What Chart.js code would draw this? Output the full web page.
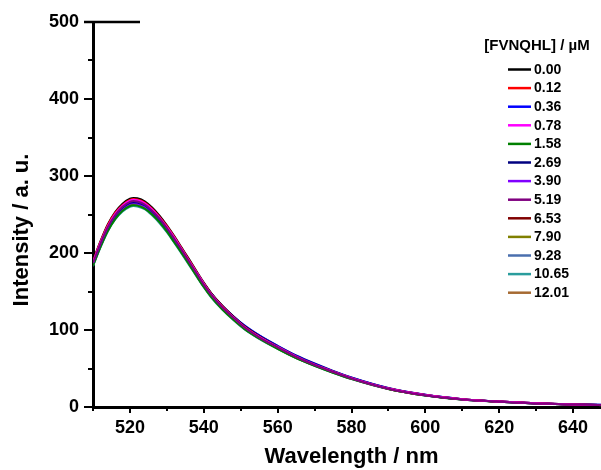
<!DOCTYPE html>
<html>
<head>
<meta charset="utf-8">
<script src="https://cdn.jsdelivr.net/npm/chart.js@4.4.0/dist/chart.umd.min.js"></script>
<style>
  html, body { margin: 0; padding: 0; background: #fff; overflow: hidden; }
  #wrap { position: absolute; left: 0; top: 0; width: 612px; height: 470px; }
</style>
</head>
<body>
<div id="wrap"><canvas id="myChart" width="612" height="470"></canvas></div>
<script>
// wavelength (nm) sample points
var wavelength = [510,512,514,516,518,520,521,522,524,526,528,530,532,534,536,538,540,542,545,548,551,555,
                  560,565,570,575,580,590,600,610,620,630,640,650];

// concentration labels for legend
var concLabels = ['0.00','0.12','0.36','0.78','1.58','2.69','3.90','5.19','6.53','7.90','9.28','10.65','12.01'];
var lineColors = ['#000000','#ff0000','#0000ff','#ff00ff','#008000','#000080','#8000ff','#800080','#800000','#808000','#4a6fae','#2a9d9d','#a66a32'];
// which lines end up on top (lower = drawn later)
var drawOrder = [0,-1,0,-2,0,0,0,-3,0,0,0,0,0];

// intensity (a. u.) per concentration
var s000 = [190,215,237,253,264,270.5,271.5,271,267,259,248.5,236,222,207,192,176.5,161.5,148,131.5,117.5,105,92,
            78,65.5,55,46,37.5,24,15.5,10,7,4.8,3.3,2.5];
var s012 = [189,214,236,252,262.5,269,270,269.5,265.5,257.5,247,235,221,206,191,175.5,160.5,147,131,117,104.5,91.5,
            78,65.5,55,46,37.5,24,15.5,10,7,4.8,3.3,2.5];
var s036 = [187,212,233.5,249,260,266.5,267.5,267,263,255,245,233,219,204.5,190,175,160.5,147.5,131.5,118,106,93,
            79,66.5,56,46.5,38,24.5,15.8,10.2,7.1,4.9,3.4,2.5];
var s078 = [188,213,234.5,250.5,261.5,268,269,268.5,264.5,256.5,246,233.5,220,205,190,175,160,146.5,130,116.5,104,91,
            78,65.5,55,46,37.5,24,15.5,10,7,4.8,3.3,2.5];
var s158 = [183.5,207.5,228.5,244,255,261,262,261.5,257.5,250,240,228,214,200,185.5,170.5,156,143,127,113.5,101.5,89,
            75.5,63.5,53.5,44.5,36.5,23.5,15,9.7,6.8,4.6,3.2,2.4];
var s269 = [186,211,232,248,259,265,266,265.5,262,254,244,232,218.5,204,189.5,174.5,160,147,131,117.5,105.5,93,
            79.5,67,56.5,47,38.3,24.6,15.8,10.2,7.1,4.9,3.4,2.5];
var s390 = [185,209.5,231,246.5,257.5,264,265,264,260.5,252.5,242.5,230,216.5,202,187,172,157.5,144.5,128.5,114.5,102.5,90,
            76.5,64.5,54,45.3,37,23.6,15.2,9.8,6.9,4.7,3.2,2.4];
var s519 = [187,212,233.5,249,260,266.5,267.5,267,263,255,245,232.5,218.5,204,189,174,159,146,129.5,116,103.5,90.5,
            77.5,65,54.7,45.7,37.2,23.8,15.3,9.9,6.9,4.7,3.3,2.5];
var s653 = [188,212.5,234,250,261,267,268,268,264,256,245.5,233,219.5,204.5,189.5,174.5,159.5,146,130,116,103.5,91,
            77.5,65,54.5,45.6,37.2,23.8,15.3,9.9,7,4.7,3.3,2.5];
var s790 = [184.5,209,230.5,246,256.5,263,264,263.5,259.5,252,241.5,229.5,216,201,186.5,171.5,157,144,128,114,102,89.5,
            76,64,54,45,36.6,23.5,15.1,9.8,6.9,4.6,3.2,2.4];
var s928 = [184,208,229.5,245,255.5,262,263,262.5,258.5,250.5,240.5,228.5,215,200.5,186,171,156.5,143.5,127.5,114,101.5,89,
            76,63.8,53.8,44.8,36.5,23.4,15,9.8,6.8,4.6,3.2,2.4];
var s1065 = [183,207,228,243.5,254,260,261,260.5,257,249,239,227,213.5,199,184.5,170,155.5,142.5,126.5,113,101,88.5,
             75.5,63.5,53.5,44.5,36.3,23.3,14.9,9.7,6.8,4.5,3.2,2.4];
var s1201 = [184.5,208.5,230,245.5,256,262.5,263.5,263,259,251,241,229,215.5,201,186,171,156.5,143.5,127.5,114,102,89.5,
             76,64,54,45,36.6,23.5,15.1,9.8,6.9,4.6,3.2,2.4];

var allSeries = [s000,s012,s036,s078,s158,s269,s390,s519,s653,s790,s928,s1065,s1201];

// axis ticks
var xTicks = [520,540,560,580,600,620,640];
var xMinor = [510,530,550,570,590,610,630,650];
var yTicks = [0,100,200,300,400,500];
var yMinor = [50,150,250,350,450];

var FONT = "'Liberation Sans', Arial, sans-serif";

var datasets = allSeries.map(function (arr, i) {
  return {
    label: concLabels[i],
    data: wavelength.map(function (w, j) { return { x: w, y: arr[j] }; }),
    borderColor: lineColors[i],
    borderWidth: 2,
    pointRadius: 0,
    fill: false,
    order: drawOrder[i],
    cubicInterpolationMode: 'monotone'
  };
});

// minor ticks, short top line, y title and the legend
var extras = {
  id: 'extras',
  afterDraw: function (chart) {
    var ctx = chart.ctx;
    var xs = chart.scales.x, ys = chart.scales.y;
    var area = chart.chartArea;
    ctx.save();
    ctx.strokeStyle = '#000';
    ctx.lineWidth = 2;
    xMinor.forEach(function (v) {
      var px = Math.round(xs.getPixelForValue(v));
      ctx.beginPath();
      ctx.moveTo(px, area.bottom);
      ctx.lineTo(px, area.bottom + 4);
      ctx.stroke();
    });
    yMinor.forEach(function (v) {
      var py = Math.round(ys.getPixelForValue(v));
      ctx.beginPath();
      ctx.moveTo(area.left, py);
      ctx.lineTo(area.left - 5, py);
      ctx.stroke();
    });
    // short piece of top frame
    ctx.lineWidth = 2.5;
    ctx.beginPath();
    ctx.moveTo(area.left - 9, area.top);
    ctx.lineTo(140, area.top);
    ctx.stroke();

    // y axis title
    ctx.fillStyle = '#000';
    ctx.save();
    ctx.translate(22, 230);
    ctx.rotate(-Math.PI / 2);
    ctx.textAlign = 'center';
    ctx.textBaseline = 'middle';
    ctx.font = 'bold 22px ' + FONT;
    ctx.fillText('Intensity / a. u.', 0, 0);
    ctx.restore();

    // legend (dataset index order)
    ctx.textBaseline = 'middle';
    ctx.textAlign = 'center';
    ctx.font = 'bold 15px ' + FONT;
    ctx.fillText('[FVNQHL] / \u00b5M', 537, 46);
    ctx.textAlign = 'left';
    ctx.font = 'bold 14px ' + FONT;
    chart.data.datasets.forEach(function (ds, i) {
      var y = 69.5 + i * 18.6;
      ctx.strokeStyle = ds.borderColor;
      ctx.lineWidth = 2.5;
      ctx.beginPath();
      ctx.moveTo(508, y);
      ctx.lineTo(531, y);
      ctx.stroke();
      ctx.fillText(ds.label, 534, y + 0.5);
    });
    ctx.restore();
  }
};

var config = {
  type: 'line',
  data: { datasets: datasets },
  options: {
    responsive: false,
    animation: false,
    devicePixelRatio: 1,
    layout: { padding: { left: 0, right: 2, top: 22, bottom: 0 } },
    plugins: { legend: { display: false }, tooltip: { enabled: false } },
    scales: {
      x: {
        type: 'linear',
        min: 510,
        max: 650,
        afterBuildTicks: function (scale) { scale.ticks = xTicks.map(function (v) { return { value: v }; }); },
        afterFit: function (scale) { scale.height = 63; },
        border: { display: true, color: '#000', width: 3 },
        grid: { drawOnChartArea: false, drawTicks: true, tickLength: 6, color: '#000', lineWidth: 2 },
        ticks: { color: '#000', padding: 4, maxRotation: 0, font: { family: FONT, size: 18, weight: 'bold' } },
        title: { display: true, text: 'Wavelength / nm', color: '#000', padding: { top: 0, bottom: 0 }, font: { family: FONT, size: 22, weight: 'bold' } }
      },
      y: {
        type: 'linear',
        min: 0,
        max: 500,
        afterBuildTicks: function (scale) { scale.ticks = yTicks.map(function (v) { return { value: v }; }); },
        afterFit: function (scale) { scale.width = 93; },
        border: { display: true, color: '#000', width: 3 },
        grid: { drawOnChartArea: false, drawTicks: true, tickLength: 9, color: '#000', lineWidth: 2 },
        ticks: { color: '#000', padding: 5, font: { family: FONT, size: 18, weight: 'bold' } },
        title: { display: false }
      }
    }
  },
  plugins: [extras]
};

const myChart = new Chart(document.getElementById('myChart'), config);
</script>
</body>
</html>
